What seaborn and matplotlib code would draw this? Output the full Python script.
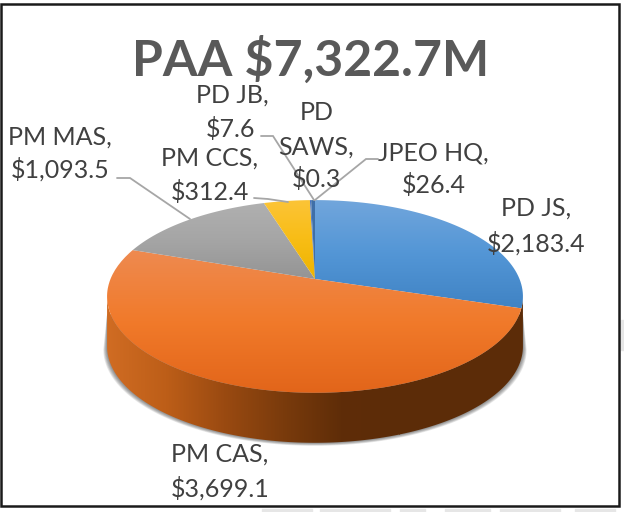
import numpy as np
import matplotlib
matplotlib.use('Agg')
import matplotlib.pyplot as plt
from matplotlib.colors import LinearSegmentedColormap
from matplotlib.patches import PathPatch, Polygon, Rectangle
from matplotlib.path import Path
from matplotlib.transforms import Affine2D
import seaborn as sns

# Chart data
chart_title = 'PAA $7,322.7M'
programs = ['PD JS', 'PM CAS', 'PM MAS', 'PM CCS', 'PD JB', 'PD SAWS', 'JPEO HQ']
funding = [2183.4, 3699.1, 1093.5, 312.4, 7.6, 0.3, 26.4]
value_labels = ['$2,183.4', '$3,699.1', '$1,093.5', '$312.4', '$7.6', '$0.3', '$26.4']

# Top to bottom colours of each slice
slice_colors = [('#72a6dc', '#5396d6', '#4083c4'), ('#ee8a50', '#f17a2a', '#e2651a'),
                ('#b0b0b0', '#a5a5a5', '#949494'), ('#fcc437', '#f8bd15', '#edb400'),
                ('#4472c4', '#4472c4', '#4472c4'), ('#70ad47', '#70ad47', '#70ad47'),
                ('#3f6fa8', '#3f6fa8', '#3f6fa8')]

sns.set_style('white')
plt.rcParams['font.family'] = ['Lato', 'DejaVu Sans']

W, H = 624, 512
fig = plt.figure(figsize=(W / 100, H / 100), dpi=100)
ax = fig.add_axes([0, 0, 1, 1])

# Tilted disc: centre of the pie and how the perspective squeezes it
CX, CY = 315, 279
AX, AY, K = 204.5, 42.7, 0.181
DEPTH = 50


def project(uv):
    uv = np.asarray(uv)
    w = 1 + K * uv[:, 1]
    return np.column_stack([CX + AX * uv[:, 0] / w, (CY - AY * uv[:, 1]) / w])


# Let matplotlib work out the slices, then put them in perspective
wedges, _ = ax.pie(funding, startangle=90, counterclock=False, radius=1)
outlines = []
for w in wedges:
    p = Affine2D().scale(1000).transform_path(w.get_path())
    outlines.append(project(p.to_polygons()[0] / 1000))
    w.remove()
ax.set_aspect('auto')
ax.axis('off')

# Rim of the disc, used for the side wall and the shadow
theta = np.linspace(0, 2 * np.pi, 400)
rim = project(np.column_stack([np.cos(theta), np.sin(theta)]))
left_i = rim[:, 0].argmin()
lower = rim[rim[:, 1] >= rim[left_i, 1] - 0.5]
lower = lower[np.argsort(lower[:, 0])]
wall = np.vstack([lower, (lower + [0, DEPTH])[::-1]])

# Soft shadow under the wall
for i in range(6, 0, -1):
    scale = 1 + i * 0.003
    sh = (lower - [CX, 0]) * [scale, 1] + [CX, DEPTH + i * 0.5]
    sh = np.vstack([[lower[0] + [0, 18]], sh, [lower[-1] + [0, 18]]])
    ax.add_patch(Polygon(sh, closed=True, fc='#303030', ec='none', alpha=0.11, zorder=1))

# Side wall with its left to right shading
wall_cmap = LinearSegmentedColormap.from_list(
    'wall', ['#d06c23', '#bd5e18', '#9a4a11', '#7a3b0c', '#5f2d08', '#5c2c08'])
im = ax.imshow(np.linspace(0, 1, 256).reshape(1, -1), cmap=wall_cmap, aspect='auto',
               extent=(lower[0, 0], 400, 460, 290), zorder=2)
im_right = ax.add_patch(Rectangle((399, 290), 130, 170, fc='#5c2c08', ec='none', zorder=2))
clip = Polygon(wall, closed=True, transform=ax.transData)
im.set_clip_path(clip)
im_right.set_clip_path(clip)

# Top face, one vertical gradient per slice
for pts, colors in zip(outlines, slice_colors):
    cmap = LinearSegmentedColormap.from_list('s', sns.blend_palette(colors, 16))
    patch = PathPatch(Path(np.vstack([pts, pts[:1]])), fc='none', ec='none',
                      transform=ax.transData)
    ax.add_patch(patch)
    grad = ax.imshow(np.linspace(0, 1, 256).reshape(-1, 1), cmap=cmap, aspect='auto',
                     extent=(100, 530, pts[:, 1].max(), pts[:, 1].min()), zorder=3)
    grad.set_clip_path(patch)
ax.set_xlim(0, W)
ax.set_ylim(H, 0)

# Leader lines
leaders = [[(117, 178), (130, 178), (190, 219)],
           [(254, 198), (268, 199), (288, 202)],
           [(261, 136), (273, 136), (314, 200)],
           [(378, 159), (366, 159), (315, 200)]]
for line in leaders:
    xs, ys = zip(*line)
    ax.plot(xs, ys, color='#a6a6a6', lw=1.3, zorder=4, solid_joinstyle='miter')

# Data labels, name line and value line
label_pos = {
    'PD JS': ((536, 208), (536, 243)),
    'PM CAS': ((220, 454), (220, 488)),
    'PM MAS': ((60, 137), (60, 169)),
    'PM CCS': ((210, 158), (210, 192)),
    'PD JB': ((232, 95), (231, 129)),
    'JPEO HQ': ((433, 153), (434, 185)),
}
label_style = dict(ha='center', va='center', fontsize=18, color='#404040', zorder=5)
for name, value in zip(programs, value_labels):
    if name == 'PD SAWS':
        # this one wraps onto three lines
        ax.text(317, 112, 'PD', **label_style)
        ax.text(316, 147, 'SAWS,', **label_style)
        ax.text(316, 179, value, **label_style)
        continue
    name_xy, value_xy = label_pos[name]
    ax.text(*name_xy, name + ',', **label_style)
    ax.text(*value_xy, value, **label_style)

ax.text(311, 60, chart_title, ha='center', va='center', fontsize=36, fontweight='bold',
        color='#595959', zorder=5)

# Frame around the pasted chart
ax.add_patch(Rectangle((1, 4), 618, 502, fc='none', ec='#1a1a1a', lw=1.8, zorder=6))

# Faint page marks showing past the frame
ax.broken_barh([(262, 50), (320, 70), (400, 25), (445, 45), (500, 60), (575, 40)], (509, 3),
               color='#e6e6e6', zorder=1)
ax.broken_barh([(621, 3)], (320, 30), color='#e6e6e6', zorder=1)

fig.savefig('out.png', dpi=100, facecolor='white')
